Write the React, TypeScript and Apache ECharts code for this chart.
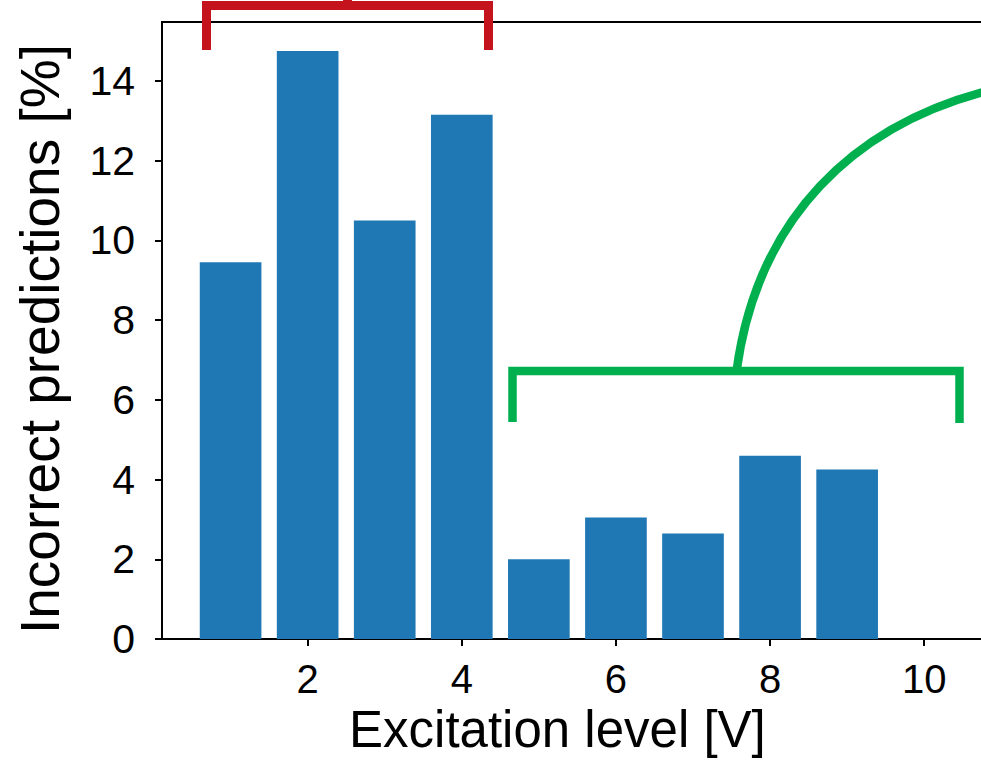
import React, { useEffect, useRef } from "react";
import * as echarts from "echarts";

const levels = [1, 2, 3, 4, 5, 6, 7, 8, 9, 10];
const incorrectPct = [9.45, 14.75, 10.5, 13.15, 2.0, 3.05, 2.65, 4.6, 4.25, 0];
const xTickValues = [2, 4, 6, 8, 10];
const yTickValues = [0, 2, 4, 6, 8, 10, 12, 14];
const xLabel = "Excitation level [V]";
const yLabel = "Incorrect predictions [%]";

export default function App() {
  const ref = useRef<HTMLDivElement>(null);
  useEffect(() => {
    const chart = echarts.init(ref.current!, null, { renderer: "svg" });
    const font = "'Liberation Sans', Arial, Helvetica, sans-serif";
    const red = "#C4131D";
    const green = "#00B04F";
    chart.setOption({
      animation: false,
      backgroundColor: "#ffffff",
      grid: {
        left: 162,
        top: 22,
        width: 830.8,
        height: 619,
        show: true,
        borderColor: "#000",
        borderWidth: 2,
        backgroundColor: "transparent",
      },
      xAxis: {
        type: "value",
        min: 0.11,
        max: 10.89,
        axisLine: { show: true, lineStyle: { color: "#000", width: 2 } },
        axisTick: { show: true, length: 7, lineStyle: { color: "#000", width: 2 }, customValues: xTickValues },
        axisLabel: { customValues: xTickValues, color: "#000", fontSize: 40, fontFamily: font, margin: 20 },
        splitLine: { show: false },
        name: xLabel,
        nameLocation: "middle",
        nameGap: 64,
        nameTextStyle: { color: "#000", fontSize: 51, fontFamily: font, padding: [0, 40, 0, 0] },
      },
      yAxis: {
        type: "value",
        min: 0,
        max: 15.475,
        axisLine: { show: true, lineStyle: { color: "#000", width: 2 } },
        axisTick: { show: true, length: 7, lineStyle: { color: "#000", width: 2 }, customValues: yTickValues },
        axisLabel: { customValues: yTickValues, color: "#000", fontSize: 41, fontFamily: font, margin: 27 },
        splitLine: { show: false },
        name: yLabel,
        nameLocation: "middle",
        nameGap: 95,
        nameTextStyle: { color: "#000", fontSize: 55, fontFamily: font, padding: [0, 17, 0, 0] },
      },
      series: [
        {
          type: "bar",
          data: levels.map((lv, i) => [lv, incorrectPct[i]]),
          barWidth: "80%",
          itemStyle: { color: "#1F77B4" },
        },
      ],
      graphic: [
        {
          type: "polyline",
          shape: { points: [[206.5, 50], [206.5, 5.5], [488.5, 5.5], [488.5, 50]] },
          style: { stroke: red, lineWidth: 9, fill: null, lineJoin: "miter", lineCap: "butt" },
        },
        {
          type: "line",
          shape: { x1: 347.5, y1: -5, x2: 347.5, y2: 5 },
          style: { stroke: red, lineWidth: 9 },
        },
        {
          type: "polyline",
          shape: { points: [[512.5, 422], [512.5, 371], [959.5, 371], [959.5, 423]] },
          style: { stroke: green, lineWidth: 8.5, fill: null, lineJoin: "miter", lineCap: "butt" },
        },
        {
          type: "bezierCurve",
          shape: { x1: 736.7, y1: 370, cpx1: 757.7, cpy1: 216.7, cpx2: 855, cpy2: 126, x2: 985, y2: 91.6 },
          style: { stroke: green, lineWidth: 8.5, fill: null },
        },
      ],
    });
    return () => chart.dispose();
  }, []);
  return (
    <div
      style={{
        position: "fixed",
        left: 0,
        top: 0,
        width: 981,
        height: 760,
        overflow: "hidden",
        background: "#fff",
      }}
    >
      <div ref={ref} style={{ width: 1000, height: 760 }} />
    </div>
  );
}
